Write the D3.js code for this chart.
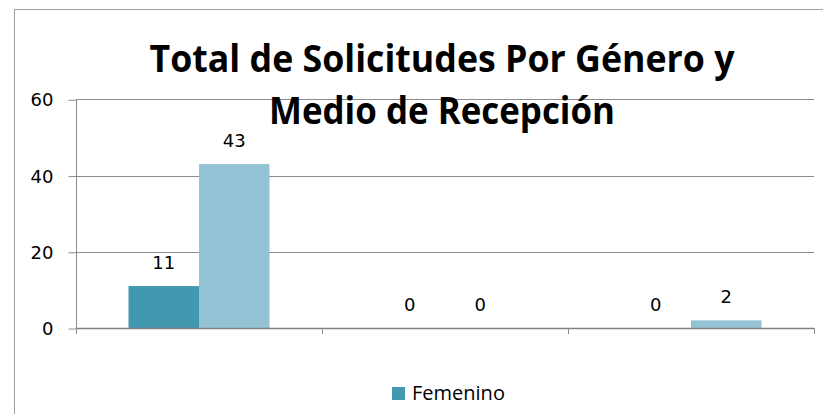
<!DOCTYPE html>
<html>
<head>
<meta charset="utf-8">
<script src="https://cdn.jsdelivr.net/npm/d3@7"></script>
<style>
  html, body { margin: 0; padding: 0; background: #fff; }
  svg { display: block; }
  .lbl { font-family: "DejaVu Sans", sans-serif; font-size: 18px; fill: #000; }
</style>
</head>
<body>
<div id="chart"></div>
<script>
// Total de Solicitudes Por Género y Medio de Recepción
var categories = ["Medio 1", "Medio 2", "Medio 3"];
var seriesNames = ["Femenino", "Masculino"];
var femenino = [11, 0, 0];
var masculino = [43, 0, 2];
var yTicks = [0, 20, 40, 60];
var titleLines = ["Total de Solicitudes Por Género y", "Medio de Recepción"];

var colors = ["#4198af", "#93c3d5"];

var width = 823, height = 414;
var plot = { left: 76, right: 814, top: 99.3, bottom: 328 };

var svg = d3.select("#chart").append("svg")
    .attr("width", width)
    .attr("height", height);

// chart border
svg.append("rect")
    .attr("x", 14.5).attr("y", 9.5)
    .attr("width", 900).attr("height", 500)
    .attr("fill", "none")
    .attr("stroke", "#a0a0a0")
    .attr("stroke-width", 1);

var x = d3.scaleBand()
    .domain(categories)
    .range([plot.left, plot.right])
    .paddingInner(0).paddingOuter(0);

var xInner = d3.scaleBand()
    .domain(seriesNames)
    .range([0, x.bandwidth()])
    .paddingInner(0).paddingOuter(0.745);

var y = d3.scaleLinear()
    .domain([0, 60])
    .range([plot.bottom, plot.top]);

// Grid lines
svg.append("g")
    .selectAll("line")
    .data(yTicks.filter(function (t) { return t > 0; }))
    .enter().append("line")
    .attr("x1", plot.left).attr("x2", plot.right)
    .attr("y1", function (t) { return Math.round(y(t)) + 0.5; })
    .attr("y2", function (t) { return Math.round(y(t)) + 0.5; })
    .attr("stroke", "#8c8c8c")
    .attr("stroke-width", 1);

// Bars
var data = [femenino, masculino];
data.forEach(function (vals, s) {
    svg.append("g")
        .selectAll("rect")
        .data(vals)
        .enter().append("rect")
        .attr("x", function (v, i) { return x(categories[i]) + xInner(seriesNames[s]); })
        .attr("y", function (v) { return y(v); })
        .attr("width", xInner.bandwidth())
        .attr("height", function (v) { return y(0) - y(v); })
        .attr("fill", colors[s]);

    // data labels
    svg.append("g")
        .selectAll("text")
        .data(vals)
        .enter().append("text")
        .attr("class", "lbl")
        .attr("x", function (v, i) { return x(categories[i]) + xInner(seriesNames[s]) + xInner.bandwidth() / 2; })
        .attr("y", function (v) { return y(v) - 17; })
        .attr("text-anchor", "middle")
        .text(function (v) { return v; });
});

// Y axis
var yAxis = svg.append("g")
    .attr("transform", "translate(" + (plot.left + 0.5) + ",0)")
    .call(d3.axisLeft(y).tickValues(yTicks).tickSize(8).tickPadding(15));
yAxis.select(".domain").remove();
yAxis.selectAll(".tick line").attr("stroke", "#8c8c8c")
    .attr("transform", "translate(0,0.5)");
yAxis.selectAll(".tick text")
    .attr("class", "lbl")
    .attr("fill", "#000")
    .attr("dy", "0.36em");
yAxis.append("line")
    .attr("x1", 0).attr("x2", 0)
    .attr("y1", plot.top).attr("y2", plot.bottom)
    .attr("stroke", "#8c8c8c");

// X axis with category boundary ticks
var bounds = categories.map(function (c) { return x(c); }).concat([plot.right]);
var xAxis = svg.append("g");
xAxis.append("line")
    .attr("x1", plot.left).attr("x2", plot.right)
    .attr("y1", Math.round(plot.bottom) + 0.5).attr("y2", Math.round(plot.bottom) + 0.5)
    .attr("stroke", "#808080")
    .attr("stroke-width", 1.5);
xAxis.selectAll(".ctick")
    .data(bounds)
    .enter().append("line")
    .attr("class", "ctick")
    .attr("x1", function (b) { return Math.round(b) + 0.5; })
    .attr("x2", function (b) { return Math.round(b) + 0.5; })
    .attr("y1", plot.bottom).attr("y2", plot.bottom + 6)
    .attr("stroke", "#8c8c8c");

// Title
var titleWidths = [585, 346];
svg.append("g")
    .selectAll("text")
    .data(titleLines)
    .enter().append("text")
    .attr("x", 442)
    .attr("y", function (d, i) { return 72 + i * 52; })
    .attr("text-anchor", "middle")
    .attr("textLength", function (d, i) { return titleWidths[i]; })
    .attr("lengthAdjust", "spacingAndGlyphs")
    .style("font-family", "'Open Sans', sans-serif")
    .style("font-weight", "bold")
    .style("font-size", "37px")
    .text(function (d) { return d; });

// Legend (only first series visible)
var legend = svg.append("g")
    .attr("transform", "translate(392,387)");
legend.append("rect")
    .attr("width", 13).attr("height", 13)
    .attr("fill", colors[0]);
legend.append("text")
    .attr("x", 20).attr("y", 13)
    .style("font-family", "'Open Sans', sans-serif")
    .style("font-size", "20px")
    .text(seriesNames[0]);
</script>
</body>
</html>
